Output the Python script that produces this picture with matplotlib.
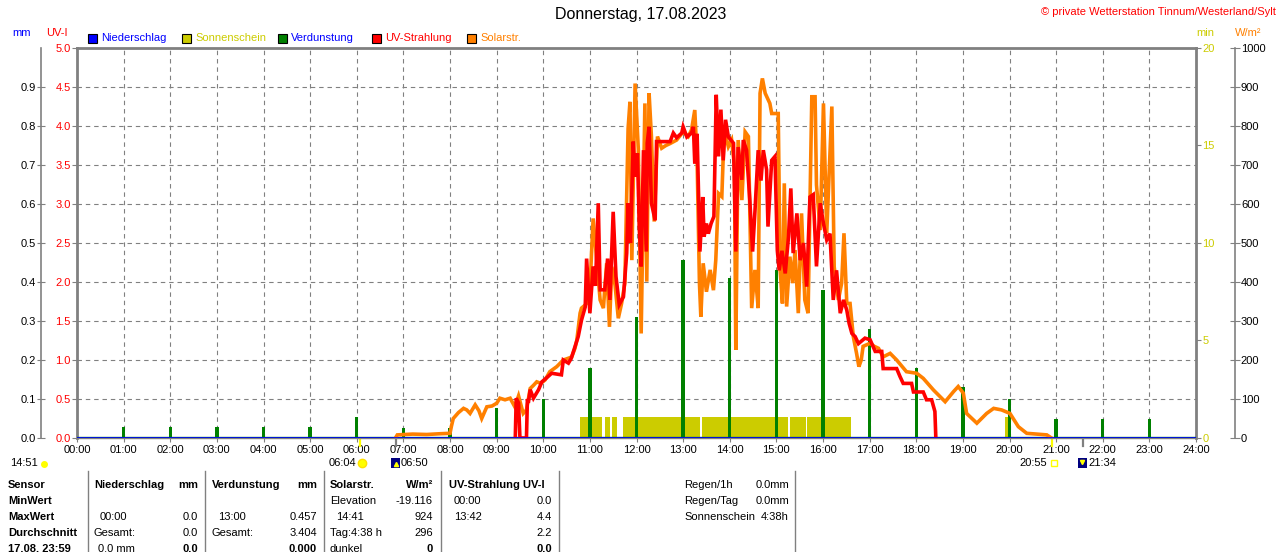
import matplotlib
matplotlib.use("Agg")
import matplotlib.pyplot as plt
from matplotlib.patches import Rectangle
from matplotlib.lines import Line2D

plt.rcParams['font.family'] = ['Liberation Sans', 'DejaVu Sans']
plt.rcParams['font.size'] = 8

# ---- data ----
hours = list(range(25))
hour_labels = ['%02d:00' % h for h in hours]

# evaporation (mm), one bar per hour
ev_hours = [1, 2, 3, 4, 5, 6, 7, 8, 9, 10, 11, 12, 13, 14, 15, 16, 17, 18, 19, 20, 21, 22, 23]
ev_mm = [0.028, 0.028, 0.028, 0.028, 0.028, 0.054, 0.026, 0.026, 0.077, 0.10, 0.18, 0.31,
         0.457, 0.41, 0.43, 0.38, 0.28, 0.18, 0.13, 0.10, 0.05, 0.05, 0.05]

# sunshine blocks (hours, minutes)
sun_start = [10.79, 11.33, 11.48, 11.72, 13.41, 15.29, 15.66, 19.90]
sun_end = [11.27, 11.43, 11.58, 13.36, 15.26, 15.64, 16.60, 20.00]
sun_min = [1.08, 1.08, 1.08, 1.08, 1.08, 1.08, 1.08, 1.08]

# solar radiation W/m2
sol_t = [6.83, 6.87, 7.2, 7.5, 7.8, 8.0, 8.03, 8.07, 8.18, 8.29, 8.36, 8.43, 8.54, 8.62, 8.68,
         8.79, 8.9, 9.0, 9.07, 9.18, 9.29, 9.39, 9.47, 9.52, 9.57, 9.64, 9.72, 9.79, 9.86, 9.95,
         10.04, 10.14, 10.29, 10.43, 10.55, 10.61, 10.68, 10.72, 10.79, 10.82, 10.9, 10.93, 11.0,
         11.07, 11.14, 11.22, 11.29, 11.36, 11.42, 11.47, 11.54, 11.61, 11.68, 11.75, 11.82,
         11.86, 11.9, 11.97, 12.04, 12.1, 12.18, 12.22, 12.27, 12.32, 12.38, 12.45, 12.54,
         12.63, 12.72, 12.86, 13.0, 13.11, 13.18, 13.25, 13.3, 13.35, 13.38, 13.43, 13.5, 13.58,
         13.65, 13.7, 13.76, 13.83, 13.88, 13.97, 14.04, 14.1, 14.13, 14.18, 14.26, 14.33, 14.4,
         14.47, 14.54, 14.61, 14.65, 14.7, 14.76, 14.86, 14.9, 15.04, 15.08, 15.13, 15.17, 15.22,
         15.29, 15.35, 15.4, 15.47, 15.54, 15.61, 15.68, 15.76, 15.83, 15.86, 15.94, 16.01,
         16.08, 16.19, 16.24, 16.33, 16.4, 16.45, 16.51, 16.58, 16.65, 16.72, 16.77, 16.82,
         16.86, 17.01, 17.1, 17.19, 17.29, 17.44, 17.58, 17.79, 18.01, 18.15, 18.37, 18.62,
         18.8, 18.9, 19.01, 19.08, 19.3, 19.51, 19.66, 19.83, 20.01, 20.19, 20.37, 20.8, 20.9]
sol_w = [0, 8, 10, 9, 11, 12, 30, 50, 65, 76, 72, 63, 85, 70, 50,
         80, 82, 89, 102, 98, 102, 80, 108, 85, 63, 72, 127, 135, 144, 140,
         149, 170, 183, 200, 205, 208, 230, 251, 320, 333, 341, 345, 380,
         563, 465, 354, 333, 448, 285, 439, 392, 307, 345, 397, 794,
         862, 456, 909, 738, 268, 858, 401, 884, 773, 555, 773, 743,
         750, 755, 764, 785, 773, 790, 841, 713, 397, 311, 448, 375, 431,
         379, 456, 627, 619, 790, 747, 764, 700, 226, 764, 610, 785, 773,
         333, 431, 333, 884, 922, 884, 858, 832, 832, 431, 345, 653, 337,
         465, 397, 482, 320, 576, 354, 320, 875, 875, 649, 533, 858,
         525, 850, 439, 354, 397, 525, 345, 345, 260, 217, 183, 200,
         235, 243, 235, 230, 208, 217, 200, 170, 166, 153, 123, 93,
         119, 132, 115, 63, 38, 63, 76, 72, 63, 29, 12, 8, 0]

# UV index
uv_t = [9.40, 9.42, 9.47, 9.5, 9.64, 9.66, 9.68, 9.72, 9.79, 9.9, 9.97, 10.07, 10.18, 10.39,
        10.43, 10.54, 10.6, 10.68, 10.75, 10.82, 10.9, 10.93, 10.97, 11.0, 11.07, 11.12, 11.18,
        11.22, 11.32, 11.38, 11.43, 11.5, 11.56, 11.63, 11.72, 11.79, 11.82, 11.87, 11.93,
        11.97, 12.02, 12.06, 12.1, 12.15, 12.21, 12.23, 12.27, 12.32, 12.4, 12.43, 12.5, 12.72,
        12.79, 12.86, 12.97, 13.0, 13.08, 13.18, 13.22, 13.25, 13.3, 13.36, 13.42, 13.45, 13.5,
        13.54, 13.6, 13.66, 13.71, 13.76, 13.81, 13.86, 13.91, 13.97, 14.08, 14.13, 14.18,
        14.26, 14.29, 14.36, 14.43, 14.49, 14.54, 14.61, 14.67, 14.72, 14.79, 14.82, 14.9,
        14.97, 15.02, 15.06, 15.12, 15.19, 15.26, 15.31, 15.36, 15.44, 15.51, 15.58, 15.65,
        15.72, 15.79, 15.86, 15.94, 16.01, 16.08, 16.15, 16.22, 16.29, 16.37, 16.44, 16.51,
        16.56, 16.62, 16.69, 16.76, 16.9, 17.01, 17.12, 17.26, 17.29, 17.58, 17.65, 17.72,
        17.9, 17.94, 18.15, 18.22, 18.33, 18.4, 18.42]
uv_i = [0.0, 0.51, 0.45, 0.0, 0.0, 0.50, 0.45, 0.62, 0.51, 0.62, 0.72, 0.77, 0.83, 0.81,
        1.0, 0.96, 1.02, 1.17, 1.3, 1.51, 1.68, 2.30, 1.9, 1.60, 2.20, 1.95, 3.01,
        1.90, 1.90, 2.30, 1.77, 2.9, 2.07, 1.71, 1.81, 2.37, 3.01, 2.5, 3.8,
        3.35, 3.65, 2.71, 2.2, 3.69, 2.39, 3.78, 3.99, 3.01, 2.79, 3.8, 3.8, 3.8,
        3.91, 3.85, 3.91, 3.99, 3.86, 3.91, 3.99, 3.52, 3.9, 2.39, 3.09, 2.58, 2.75,
        2.62, 2.75, 2.84, 4.40, 3.61, 4.21, 3.56, 4.08, 3.86, 3.78, 2.39, 3.73,
        3.31, 3.82, 3.69, 3.05, 2.39, 2.9, 3.69, 3.3, 3.69, 3.44, 2.71, 3.56,
        3.61, 2.41, 2.15, 2.4, 2.11, 2.58, 3.20, 2.37, 2.88, 2.28, 2.50, 1.94,
        3.09, 3.12, 2.2, 3.01, 2.75, 2.54, 2.62, 1.77, 2.15, 1.60, 1.77, 1.64,
        1.47, 1.34, 1.3, 1.21, 1.28, 1.26, 1.11, 1.11, 0.89, 0.89, 0.79, 0.70,
        0.70, 0.59, 0.59, 0.49, 0.49, 0.34, 0.0]

uv_ticks = [0.0, 0.5, 1.0, 1.5, 2.0, 2.5, 3.0, 3.5, 4.0, 4.5, 5.0]
mm_ticks = [0.0, 0.1, 0.2, 0.3, 0.4, 0.5, 0.6, 0.7, 0.8, 0.9]
min_ticks = [0, 5, 10, 15, 20]
w_ticks = [0, 100, 200, 300, 400, 500, 600, 700, 800, 900, 1000]

# sunrise / sunset marks
sun_marks = [6.067, 20.917]
dark_marks = [6.833, 21.567]

GRAY = '#808080'
RED = '#ff0000'
ORANGE = '#ff8000'
GREEN = '#008000'
BLUE = '#0000ff'
YELLOW = '#cccc00'

W, H = 1280, 552


def fx(x):
    return x / W


def fy(y):
    return 1 - y / H


fig = plt.figure(figsize=(12.8, 5.52), dpi=100)
ax = fig.add_axes([fx(77), fy(438), 1119 / W, 390 / H])

ax.set_xlim(0, 24)
ax.set_ylim(0, 5)
ax.set_xticks(hours)
ax.set_xticklabels(hour_labels, fontsize=8)
ax.set_yticks(uv_ticks)
ax.set_yticklabels(['%.1f' % v for v in uv_ticks], color=RED, fontsize=8)
ax.tick_params(axis='y', direction='out', length=3.6, color=GRAY, pad=1)
ax.tick_params(axis='x', direction='out', length=3, color=GRAY, pad=2)

# dashed grid
for h in hours[1:24]:
    ax.axvline(h, color=GRAY, lw=0.8, linestyle=(0, (4, 3.5)), zorder=0)
for v in uv_ticks[1:10]:
    ax.axhline(v, color=GRAY, lw=0.8, linestyle=(0, (4, 3.5)), zorder=0)

for s in ['left', 'top', 'right']:
    ax.spines[s].set_color(GRAY)
    ax.spines[s].set_linewidth(2)
ax.spines['bottom'].set_color(GRAY)
ax.spines['bottom'].set_linewidth(1)

# sunshine
ax_min = ax.twinx()
ax_min.set_ylim(0, 20)
ax_min.bar(sun_start, sun_min, width=[e - s for s, e in zip(sun_start, sun_end)],
           align='edge', color=YELLOW, linewidth=0)
ax_min.set_yticks(min_ticks)
ax_min.set_yticklabels([str(v) for v in min_ticks], color=YELLOW, fontsize=8)
ax_min.tick_params(axis='y', direction='out', length=3.6, color=GRAY, pad=1)

# evaporation
ax_mm = ax.twinx()
ax_mm.set_ylim(0, 1)
ax_mm.bar(ev_hours, ev_mm, width=0.075, color=GREEN, linewidth=0)
ax_mm.axhline(0, color=GREEN, lw=2.4)
ax_mm.yaxis.tick_left()
ax_mm.set_yticks(mm_ticks)
ax_mm.set_yticklabels(['%.1f' % v for v in mm_ticks], color=BLUE, fontsize=8)
ax_mm.tick_params(axis='y', direction='inout', length=5.5, color=GRAY, pad=1)

# solar
ax_w = ax.twinx()
ax_w.set_ylim(0, 1000)
ax_w.plot(sol_t, sol_w, color=ORANGE, lw=2.6, solid_joinstyle='miter')
ax_w.set_yticks(w_ticks)
ax_w.set_yticklabels([str(v) for v in w_ticks], color=ORANGE, fontsize=8)
ax_w.tick_params(axis='y', direction='inout', length=6.5, color=GRAY, pad=1)

# UV
ax_uv = ax.twinx()
ax_uv.set_ylim(0, 5)
ax_uv.plot(uv_t, uv_i, color=RED, lw=2.6, solid_joinstyle='miter')
ax_uv.axhline(0, color=BLUE, lw=1.2)
ax_uv.set_yticks([])

for a in [ax_min, ax_mm, ax_w, ax_uv]:
    for s in a.spines.values():
        s.set_visible(False)
ax_mm.spines['left'].set_visible(True)
ax_mm.spines['left'].set_position(('axes', (41 - 77) / 1119))
ax_mm.spines['left'].set_color(GRAY)
ax_mm.spines['left'].set_linewidth(1.2)
ax_w.spines['right'].set_visible(True)
ax_w.spines['right'].set_position(('axes', (1235 - 77) / 1119))
ax_w.spines['right'].set_color(GRAY)
ax_w.spines['right'].set_linewidth(1.2)

# sunrise / dusk marks under the axis
xt = ax.get_xaxis_transform()
for t in sun_marks:
    ax.plot([t, t], [-0.004, -0.02], color='#ffff00', lw=1.6, transform=xt, clip_on=False)
for t in dark_marks:
    ax.plot([t, t], [-0.004, -0.02], color=GRAY, lw=1.6, transform=xt, clip_on=False)

# ---- header ----
fig.text(fx(641), fy(15), 'Donnerstag, 17.08.2023', ha='center', va='center', fontsize=11.5)
fig.text(fx(1276), fy(12), '\u00a9 private Wetterstation Tinnum/Westerland/Sylt',
         ha='right', va='center', color=RED, fontsize=8)
fig.text(fx(22), fy(33), 'mm', ha='center', va='center', color=BLUE, fontsize=8)
fig.text(fx(57), fy(33), 'UV-I', ha='center', va='center', color=RED, fontsize=8)
fig.text(fx(1205), fy(33), 'min', ha='center', va='center', color=YELLOW, fontsize=8)
fig.text(fx(1248), fy(33), 'W/m\u00b2', ha='center', va='center', color=ORANGE, fontsize=8)

legend_items = [('Niederschlag', BLUE, BLUE, 88), ('Sonnenschein', YELLOW, YELLOW, 182),
                ('Verdunstung', GREEN, BLUE, 278), ('UV-Strahlung', RED, RED, 372),
                ('Solarstr.', ORANGE, ORANGE, 467)]
for name, fc, tc, x0 in legend_items:
    fig.patches.append(Rectangle((fx(x0), fy(43)), 9 / W, 9 / H, transform=fig.transFigure,
                                 facecolor=fc, edgecolor='black', lw=0.8))
    fig.text(fx(x0 + 13), fy(38), name, ha='left', va='center', color=tc, fontsize=8)

# ---- sun times under the axis ----
fig.text(fx(10), fy(463), '14:51', ha='left', va='center', fontsize=8)
fig.add_artist(Line2D([fx(44)], [fy(464)], marker='o', markersize=4, color='#ffff00',
                      transform=fig.transFigure))
fig.text(fx(356), fy(463), '06:04', ha='right', va='center', fontsize=8)
fig.add_artist(Line2D([fx(362)], [fy(463)], marker='o', markersize=6, color='#ffff00',
                      markeredgecolor='#ffe000', transform=fig.transFigure))
fig.patches.append(Rectangle((fx(391), fy(468)), 9 / W, 10 / H, transform=fig.transFigure,
                             facecolor='#000080', edgecolor='none'))
fig.add_artist(Line2D([fx(396)], [fy(464)], marker='^', markersize=3, color='#ffff00',
                      transform=fig.transFigure))
fig.text(fx(401), fy(463), '06:50', ha='left', va='center', fontsize=8)
fig.text(fx(1047), fy(463), '20:55', ha='right', va='center', fontsize=8)
fig.add_artist(Line2D([fx(1054)], [fy(463)], marker='s', markersize=4, color='none',
                      markeredgecolor='#ffff00', transform=fig.transFigure))
fig.patches.append(Rectangle((fx(1078), fy(468)), 9 / W, 10 / H, transform=fig.transFigure,
                             facecolor='#000080', edgecolor='none'))
fig.add_artist(Line2D([fx(1082)], [fy(462)], marker='v', markersize=3, color='#ffff00',
                      transform=fig.transFigure))
fig.text(fx(1088), fy(463), '21:34', ha='left', va='center', fontsize=8)

# ---- summary table ----
rows_y = [485, 501, 517, 533, 549]
for x in [88, 205, 324, 441, 559, 795]:
    fig.add_artist(Line2D([fx(x), fx(x)], [fy(471), fy(552)], color=GRAY, lw=1,
                          transform=fig.transFigure))

left_cells = [
    (8, 0, 'Sensor', True), (8, 1, 'MinWert', True), (8, 2, 'MaxWert', True),
    (8, 3, 'Durchschnitt', True), (8, 4, '17.08. 23:59', True),
    (94, 0, 'Niederschlag', True), (100, 2, '00:00', False), (94, 3, 'Gesamt:', False),
    (98, 4, '0.0 mm', False),
    (212, 0, 'Verdunstung', True), (218, 2, '13:00', False), (212, 3, 'Gesamt:', False),
    (330, 0, 'Solarstr.', True), (330, 1, 'Elevation', False), (336, 2, '14:41', False),
    (330, 3, 'Tag:4:38 h', False), (330, 4, 'dunkel', False),
    (449, 0, 'UV-Strahlung UV-I', True), (454, 1, '00:00', False), (454, 2, '13:42', False),
    (684, 0, 'Regen/1h', False), (684, 1, 'Regen/Tag', False), (684, 2, 'Sonnenschein', False),
]
right_cells = [
    (198, 0, 'mm', True), (198, 2, '0.0', False), (198, 3, '0.0', False), (198, 4, '0.0', True),
    (317, 0, 'mm', True), (317, 2, '0.457', False), (317, 3, '3.404', False),
    (317, 4, '0.000', True),
    (433, 0, 'W/m\u00b2', True), (433, 1, '-19.116', False), (433, 2, '924', False),
    (433, 3, '296', False), (433, 4, '0', True),
    (552, 1, '0.0', False), (552, 2, '4.4', False), (552, 3, '2.2', False), (552, 4, '0.0', True),
    (789, 0, '0.0mm', False), (789, 1, '0.0mm', False), (789, 2, '4:38h', False),
]
for x, r, s, b in left_cells:
    fig.text(fx(x), fy(rows_y[r]), s, ha='left', va='center', fontsize=8,
             fontweight='bold' if b else 'normal')
for x, r, s, b in right_cells:
    fig.text(fx(x), fy(rows_y[r]), s, ha='right', va='center', fontsize=8,
             fontweight='bold' if b else 'normal')

fig.savefig('out.png', dpi=100)
